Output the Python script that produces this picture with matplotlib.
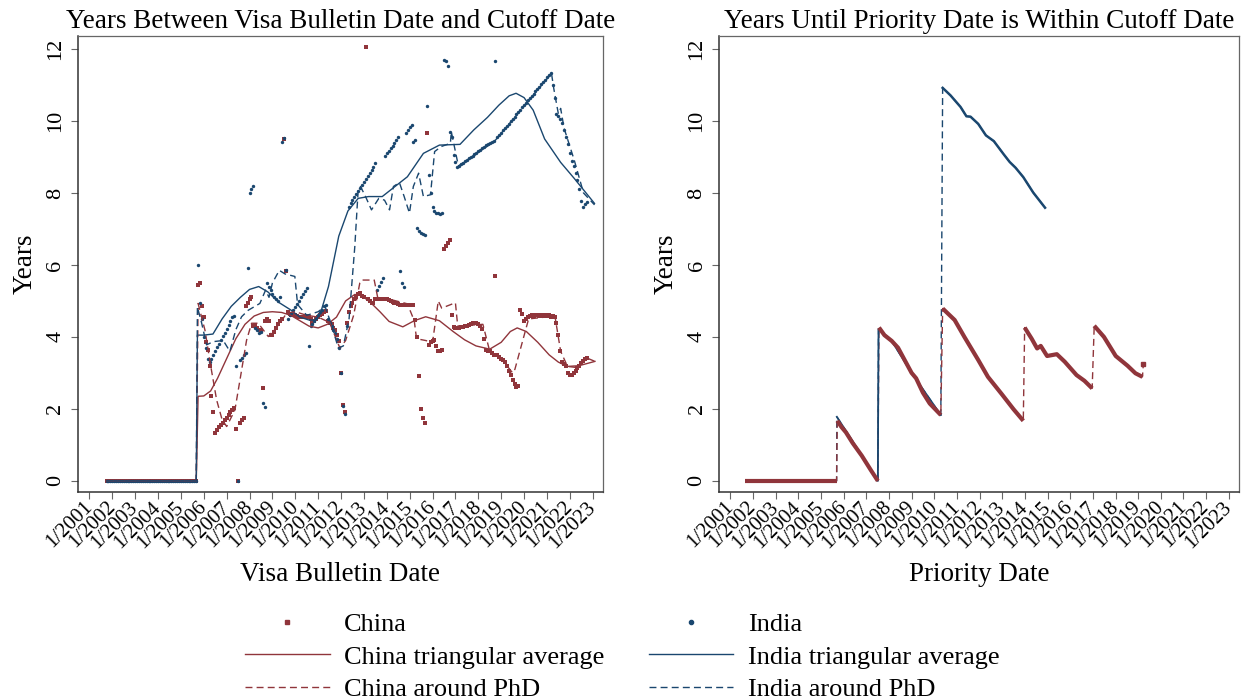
import numpy as np
import pandas as pd
import matplotlib
matplotlib.use("Agg")
import matplotlib.pyplot as plt
from matplotlib.lines import Line2D

NAVY = "#1A476F"
MAROON = "#90353B"
DASH = (0, (5, 3))

# --- monthly visa bulletins, Oct 2001 - Oct 2022 ---
bulletins = pd.date_range("2001-10-01", "2022-10-01", freq="MS")

# years between bulletin date and cutoff date
china_gap = (
    [0.0] * 48  # Oct 2001 - Sep 2005
    + [5.45, 5.50, 4.85]  # 2005 Oct-Dec
    + [4.55, 3.85, 3.65, 3.20, 2.35, 1.90, 1.33, 1.42, 1.50, 1.55, 1.60, 1.68]  # 2006
    + [1.75, 1.83, 1.90, 1.98, 2.03, 1.45, 0.00, 1.60, 1.68, 1.75, 4.85, 4.95]  # 2007
    + [5.05, 5.12, 4.30, 4.33, 4.24, 4.20, 4.20, 2.57, 4.45, 4.50, 4.45, 4.05]  # 2008
    + [4.05, 4.15, 4.25, 4.35, 4.45, 4.50, 9.50, 5.84, 4.70, 4.65, 4.62, 4.60]  # 2009
    + [4.60, 4.58, 4.56, 4.55, 4.55, 4.55, 4.57, 4.55, 4.50, 4.40, 4.45, 4.50]  # 2010
    + [4.55, 4.60, 4.65, 4.70, 4.72, 4.45, 4.38, 4.35, 4.25, 4.20, 4.05, 3.90]  # 2011
    + [3.00, 2.10, 1.90, 4.40, 4.70, 4.85, 4.95, 5.05, 5.12, 5.20, 5.22, 5.15]  # 2012
    + [5.10, 12.06, 5.05, 5.00, 4.95, 4.95, 5.05, 5.05, 5.05, 5.05, 5.05, 5.05]  # 2013
    + [5.05, 5.02, 5.00, 4.98, 4.95, 4.93, 4.92, 4.90, 4.90, 4.90, 4.90, 4.90]  # 2014
    + [4.90, 4.89, 4.89, 4.47, 4.00, 2.92, 1.99, 1.74, 1.60, 9.66, 3.78, 3.85]  # 2015
    + [3.90, 3.92, 3.75, 3.60, 3.62, 3.65, 6.45, 6.52, 6.60, 6.68, 4.60, 4.27]  # 2016
    + [4.25, 4.25, 4.25, 4.27, 4.28, 4.30, 4.30, 4.32, 4.35, 4.40, 4.40, 4.38]  # 2017
    + [4.35, 4.30, 4.22, 3.95, 3.65, 3.62, 3.60, 3.55, 3.50, 5.68, 3.50, 3.45]  # 2018
    + [3.40, 3.36, 3.30, 3.18, 3.05, 2.95, 2.80, 2.70, 2.62, 2.65, 4.75, 4.65]  # 2019
    + [4.45, 4.50, 4.56, 4.58, 4.60, 4.58, 4.60, 4.62, 4.58, 4.60, 4.58, 4.60]  # 2020
    + [4.58, 4.60, 4.56, 4.58, 4.55, 4.38, 4.05, 3.60, 3.30, 3.25, 3.18, 3.00]  # 2021
    + [2.95, 2.95, 3.00, 3.05, 3.14, 3.20, 3.28, 3.33, 3.38, 3.42]  # 2022 Jan-Oct
)

india_gap = (
    [0.0] * 48
    + [6.00, 4.95, 4.50]  # 2005
    + [4.00, 3.70, 3.40, 3.30, 3.40, 3.50, 3.60, 3.71, 3.81, 3.92, 4.02, 4.12]  # 2006
    + [4.23, 4.33, 4.44, 4.55, 4.58, 3.20, 0.00, 3.35, 3.42, 3.50, 3.56, 5.91]  # 2007
    + [8.00, 8.10, 8.18, 4.25, 4.20, 4.10, 4.15, 2.15, 2.05, 5.50, 5.40, 5.30]  # 2008
    + [5.20, 5.10, 5.05, 5.00, 5.10, 9.42, 9.52, 5.85, 4.50, 4.60, 4.66, 4.75]  # 2009
    + [4.83, 4.92, 5.00, 5.10, 5.18, 5.27, 5.35, 3.75, 4.30, 4.37, 4.45, 4.52]  # 2010
    + [4.60, 4.68, 4.75, 4.85, 4.89, 4.50, 4.38, 4.30, 4.20, 4.10, 3.95, 3.70]  # 2011
    + [3.00, 2.08, 1.87, 4.30, 7.62, 7.71, 7.80, 7.88, 7.97, 8.05, 8.14, 8.22]  # 2012
    + [8.30, 8.39, 8.47, 8.56, 8.64, 8.73, 8.82, 5.31, 5.42, 5.53, 5.63, 9.03]  # 2013
    + [9.10, 9.17, 9.24, 9.30, 9.38, 9.47, 9.56, 5.84, 5.51, 5.40, 9.68, 9.75]  # 2014
    + [9.82, 9.90, 9.41, 9.46, 7.02, 6.95, 6.90, 6.85, 6.83, 10.42, 8.50, 8.00]  # 2015
    + [7.60, 7.50, 7.45, 7.44, 7.42, 7.45, 11.70, 11.66, 11.52, 9.70, 9.55, 9.05]  # 2016
    + [8.85, 8.71, 8.76, 8.80, 8.84, 8.88, 8.92, 8.96, 9.00, 9.04, 9.08, 9.12]  # 2017
    + [9.16, 9.20, 9.24, 9.28, 9.32, 9.36, 9.40, 9.42, 9.43, 11.67, 9.55, 9.61]  # 2018
    + [9.68, 9.74, 9.80, 9.87, 9.93, 10.00, 10.06, 10.12, 10.19, 10.25, 10.31, 10.38]  # 2019
    + [10.44, 10.51, 10.57, 10.63, 10.70, 10.76, 10.82, 10.89, 10.95, 11.02, 11.08, 11.14]  # 2020
    + [11.21, 11.27, 11.32, 11.00, 10.65, 10.20, 10.15, 10.05, 9.95, 9.75, 9.55, 9.35]  # 2021
    + [9.10, 8.90, 8.75, 8.55, 8.35, 8.10, 7.78, 7.62, 7.68, 7.75]  # 2022 Jan-Oct
)

# triangular moving averages (decimal year, years)
china_tri_x = [2001.75, 2005.67, 2005.75, 2006.0, 2006.3, 2006.6, 2007.0, 2007.4, 2007.8,
               2008.2, 2008.6, 2009.0, 2009.4, 2009.8, 2010.2, 2010.6, 2011.0, 2011.4,
               2011.8, 2012.2, 2012.6, 2012.9, 2013.3, 2013.7, 2014.1, 2014.7, 2015.2,
               2015.7, 2016.3, 2016.9, 2017.4, 2017.9, 2018.5, 2019.0, 2019.4, 2019.7,
               2020.1, 2020.6, 2021.1, 2021.5, 2021.9, 2022.4, 2023.1]
china_tri_y = [0.0, 0.0, 2.35, 2.36, 2.50, 2.85, 3.40, 3.95, 4.35,
               4.58, 4.68, 4.70, 4.68, 4.60, 4.45, 4.30, 4.25, 4.35,
               4.55, 5.00, 5.18, 5.15, 4.95, 4.70, 4.43, 4.28, 4.45,
               4.56, 4.45, 4.15, 3.92, 3.75, 3.66, 3.85, 4.15, 4.25,
               4.15, 3.85, 3.50, 3.30, 3.18, 3.20, 3.32]

india_tri_x = [2001.75, 2005.67, 2005.72, 2006.0, 2006.4, 2006.8, 2007.2, 2007.6, 2008.0,
               2008.4, 2008.8, 2009.3, 2009.8, 2010.2, 2010.6, 2010.9, 2011.1, 2011.45,
               2011.9, 2012.3, 2012.75, 2013.2, 2013.8, 2014.1, 2014.4, 2014.9, 2015.6,
               2016.3, 2017.2, 2017.8, 2018.4, 2018.9, 2019.35, 2019.65, 2020.0, 2020.4,
               2020.9, 2021.6, 2022.2, 2023.08]
india_tri_y = [0.0, 0.0, 4.05, 4.05, 4.08, 4.50, 4.85, 5.10, 5.32,
               5.40, 5.25, 4.95, 4.75, 4.55, 4.47, 4.47, 4.66, 5.40,
               6.80, 7.50, 7.85, 7.90, 7.90, 8.05, 8.20, 8.45, 9.10,
               9.33, 9.35, 9.75, 10.10, 10.44, 10.70, 10.77, 10.65, 10.30,
               9.50, 8.85, 8.40, 7.71]

# cohort around PhD completion
china_phd_x = [2001.75, 2005.67, 2005.75, 2006.05, 2006.30, 2006.56, 2006.80, 2007.00,
               2007.36, 2007.58, 2007.87, 2008.09, 2008.38, 2008.82, 2009.33, 2009.62,
               2010.00, 2010.50, 2011.00, 2011.50, 2011.95, 2012.20, 2012.55, 2012.82,
               2012.90, 2013.45, 2013.60, 2014.10, 2014.90, 2015.20, 2015.30, 2015.70,
               2016.00, 2016.25, 2016.40, 2017.00, 2017.10, 2018.20, 2018.50, 2019.00,
               2019.50, 2019.60, 2020.20, 2021.35, 2021.60, 2021.90, 2022.30, 2022.80,
               2023.10]
china_phd_y = [0.0, 0.0, 4.93, 4.19, 3.20, 2.25, 1.70, 1.51,
               1.97, 2.80, 3.91, 4.38, 4.38, 4.01, 4.38, 4.66,
               4.70, 4.60, 4.55, 4.40, 3.69, 3.90, 4.60, 5.50,
               5.58, 5.58, 5.10, 5.05, 4.92, 4.45, 3.95, 3.90,
               3.85, 5.00, 4.80, 4.95, 4.30, 4.35, 3.60, 3.40,
               3.00, 3.10, 4.50, 4.58, 3.60, 3.18, 3.15, 3.40,
               3.32]

india_phd_x = [2001.75, 2005.67, 2005.72, 2005.90, 2006.12, 2006.42, 2006.85, 2007.14,
               2007.40, 2007.65, 2007.94, 2008.45, 2008.70, 2008.85, 2009.00, 2009.30,
               2009.55, 2009.98, 2010.10, 2010.50, 2011.00, 2011.30, 2011.60, 2011.88,
               2012.10, 2012.35, 2012.60, 2012.75, 2012.85, 2013.07, 2013.33, 2013.65,
               2013.90, 2014.12, 2014.29, 2014.55, 2014.76, 2014.99, 2015.16, 2015.39,
               2015.60, 2015.91, 2016.09, 2016.38, 2016.78, 2016.82, 2017.13, 2018.70,
               2021.20, 2021.30, 2021.50, 2021.60, 2021.75, 2022.20, 2022.60, 2023.08]
india_phd_y = [0.0, 0.0, 4.83, 4.40, 3.78, 3.87, 3.90, 3.60,
               4.20, 4.56, 4.74, 4.93, 5.30, 5.10, 5.50, 5.85,
               5.75, 5.68, 4.90, 4.60, 4.70, 4.85, 4.30, 3.69,
               3.75, 4.50, 6.50, 8.10, 8.18, 7.90, 7.53, 7.85,
               7.80, 7.53, 8.18, 8.29, 7.90, 7.44, 8.18, 8.55,
               7.90, 7.95, 9.15, 9.29, 9.38, 9.70, 8.75, 9.43,
               11.32, 10.90, 10.20, 10.35, 9.80, 8.90, 8.00, 7.67]

# --- years until priority date is within cutoff (by priority date) ---
china_pd_x = [2001.66, 2005.69, 2005.72, 2005.90, 2006.10, 2006.40, 2006.80, 2007.20, 2007.51,
              2007.56, 2007.80, 2008.12, 2008.40, 2008.70, 2009.00, 2009.20, 2009.50, 2009.80,
              2010.03, 2010.29, 2010.37, 2010.90, 2011.33, 2011.94, 2012.37, 2012.98, 2013.50,
              2013.93, 2013.99, 2014.30, 2014.54, 2014.70, 2014.98, 2015.41, 2015.76, 2016.28,
              2016.63, 2016.97, 2017.06, 2017.49, 2018.01, 2018.53, 2018.88, 2019.19, 2019.23]
china_pd_y = [0.00, 0.00, 1.67, 1.50, 1.35, 1.05, 0.70, 0.30, 0.00,
              4.26, 4.05, 3.89, 3.70, 3.35, 3.00, 2.85, 2.45, 2.15,
              2.00, 1.83, 4.79, 4.47, 4.00, 3.36, 2.89, 2.41, 1.99,
              1.67, 4.26, 3.95, 3.68, 3.75, 3.47, 3.52, 3.31, 2.94,
              2.78, 2.57, 4.31, 4.00, 3.47, 3.20, 2.99, 2.89, 3.26]

india_pd_x = [2001.66, 2005.69, 2005.70, 2006.40, 2007.51, 2007.54, 2008.12, 2009.00, 2010.29,
              2010.37, 2010.72, 2011.16, 2011.42, 2011.60, 2011.94, 2012.28, 2012.63, 2013.07,
              2013.33, 2013.59, 2013.93, 2014.37, 2014.89]
india_pd_y = [0.00, 0.00, 1.78, 1.10, 0.00, 4.22, 3.89, 3.00, 1.83,
              10.92, 10.71, 10.39, 10.13, 10.12, 9.92, 9.60, 9.44, 9.07,
              8.86, 8.70, 8.44, 8.01, 7.59]

assert len(china_gap) == len(bulletins) == len(india_gap)
bull_x = bulletins.year + (bulletins.month - 1) / 12.0


def split_at_jumps(x, y, jump):
    """Break a polyline wherever it steps up by more than `jump`."""
    x = np.asarray(x)
    y = np.asarray(y)
    cuts = np.where(np.diff(y) > jump)[0] + 1
    return list(zip(np.split(x, cuts), np.split(y, cuts)))


plt.rcParams["font.family"] = ["Liberation Serif", "DejaVu Serif"]

fig = plt.figure(figsize=(12.52, 7.0), dpi=100)
ax1 = fig.add_axes([0.0623, 0.2971, 0.4193, 0.6514])
ax2 = fig.add_axes([0.5743, 0.2971, 0.4153, 0.6514])

# left: gap between bulletin date and cutoff
ax1.scatter(bull_x, china_gap, marker="s", s=8, color=MAROON, linewidths=0, zorder=2)
ax1.scatter(bull_x, india_gap, marker="o", s=6, color=NAVY, linewidths=0, zorder=3)
ax1.plot(china_tri_x, china_tri_y, color=MAROON, lw=1.0, zorder=4)
ax1.plot(india_tri_x, india_tri_y, color=NAVY, lw=1.0, zorder=4)
ax1.plot(china_phd_x, china_phd_y, color=MAROON, lw=1.0, ls=DASH, zorder=4)
ax1.plot(india_phd_x, india_phd_y, color=NAVY, lw=1.0, ls=DASH, zorder=4)

# right: waiting time by priority date
ax2.plot(india_pd_x, india_pd_y, color=NAVY, lw=1.0, ls=DASH, zorder=1)
ax2.plot(china_pd_x, china_pd_y, color=MAROON, lw=1.0, ls=DASH, zorder=1.5)
# skip the run of zeros, which sits under the China marks
india_parts = split_at_jumps(india_pd_x[2:], india_pd_y[2:], 5.0)
ax2.plot(*india_parts[0], color=NAVY, lw=1.3, zorder=2)
for xs, ys in india_parts[1:]:
    ax2.plot(xs, ys, color=NAVY, lw=1.8, zorder=4)
for xs, ys in split_at_jumps(china_pd_x, china_pd_y, 0.3):
    if len(xs) > 1:
        ax2.plot(xs, ys, color=MAROON, lw=3.0, solid_capstyle="butt", zorder=3)
    else:
        ax2.plot(xs, ys, color=MAROON, marker="s", ms=3.5, ls="none", zorder=3)

titles = ["Years Between Visa Bulletin Date and Cutoff Date",
          "Years Until Priority Date is Within Cutoff Date"]
xlabels = ["Visa Bulletin Date", "Priority Date"]
year_ticks = list(range(2001, 2024))

for ax, title, xlabel in zip([ax1, ax2], titles, xlabels):
    ax.set_xlim(2000.5, 2023.45)
    ax.set_ylim(-0.31, 12.36)
    ax.set_xticks(year_ticks)
    ax.set_xticklabels([f"1/{y}" for y in year_ticks], rotation=45, ha="right",
                       va="center", rotation_mode="anchor", fontsize=15)
    ax.set_yticks(range(0, 13, 2))
    ax.set_yticklabels([str(v) for v in range(0, 13, 2)], rotation=90,
                       va="center", fontsize=16)
    ax.tick_params(axis="both", length=5, width=0.8, color="#666666", pad=4)
    ax.set_title(title, fontsize=19.5, pad=6)
    ax.set_xlabel(xlabel, fontsize=19.5, labelpad=7)
    ax.set_ylabel("Years", fontsize=19.5, labelpad=6)
    for side in ["left", "bottom"]:
        ax.spines[side].set_color("#333333")
        ax.spines[side].set_linewidth(1.1)
    for side in ["top", "right"]:
        ax.spines[side].set_color("#666666")
        ax.spines[side].set_linewidth(0.9)

handles = [
    Line2D([], [], ls="none", marker="s", ms=3.2, color=MAROON),
    Line2D([], [], color=MAROON, lw=1.0),
    Line2D([], [], color=MAROON, lw=1.0, ls=DASH),
    Line2D([], [], ls="none", marker="o", ms=3.0, color=NAVY),
    Line2D([], [], color=NAVY, lw=1.0),
    Line2D([], [], color=NAVY, lw=1.0, ls=DASH),
]
labels = ["China", "China triangular average", "China around PhD",
          "India", "India triangular average", "India around PhD"]
fig.legend(handles, labels, ncol=2, loc="upper center", bbox_to_anchor=(0.497, 0.151),
           frameon=False, fontsize=19, handlelength=3.2, handletextpad=0.55,
           columnspacing=1.67, labelspacing=0.34, borderpad=0.2)

fig.savefig("out.png", dpi=100)
